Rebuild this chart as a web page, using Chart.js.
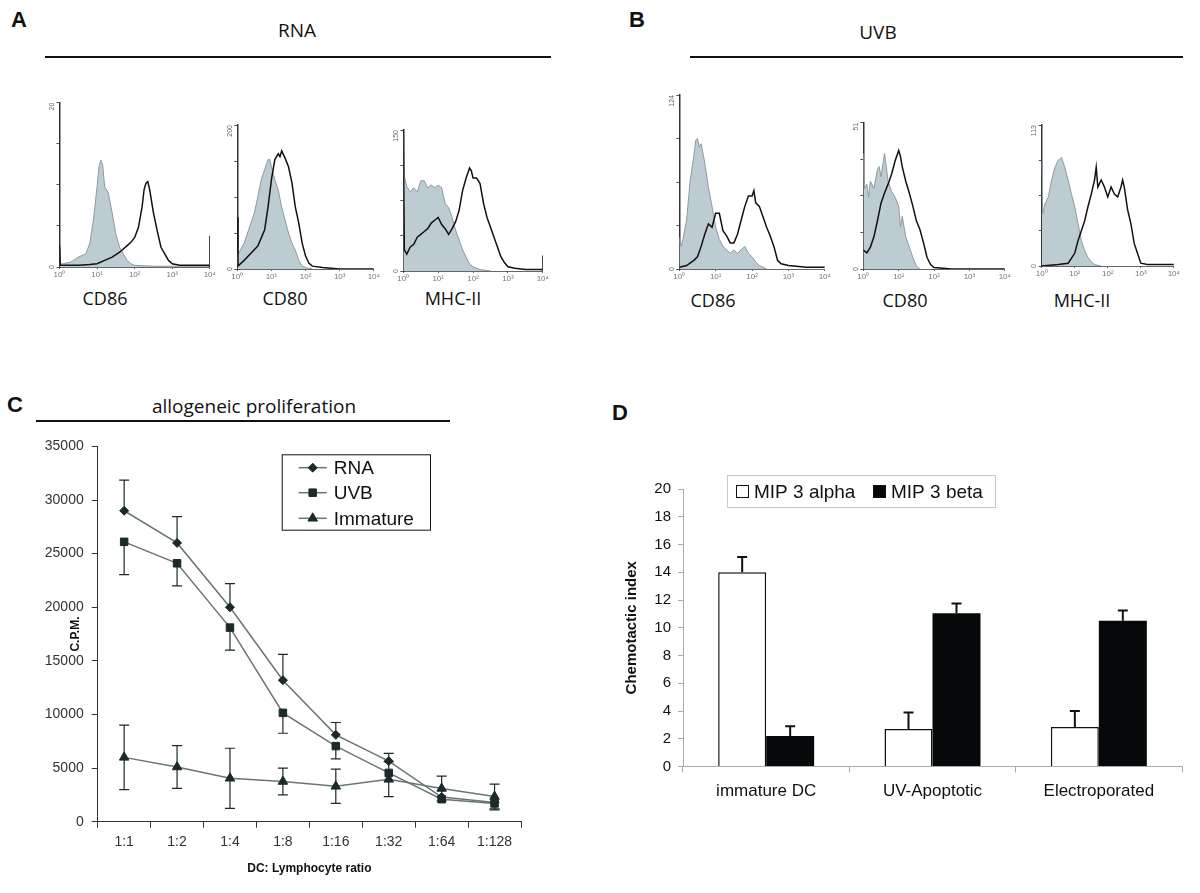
<!DOCTYPE html>
<html>
<head>
<meta charset="utf-8">
<script src="https://cdn.jsdelivr.net/npm/chart.js@4.4.1/dist/chart.umd.min.js"></script>
<style>
  html, body { margin: 0; padding: 0; background: #fff; }
  body { position: relative; width: 1200px; height: 893px; overflow: hidden; font-family: Arial, "Liberation Sans", sans-serif; }
  canvas { position: absolute; }
  .lbl { position: absolute; transform: translate(-50%, -50%); white-space: nowrap; color: #111; }
  .panel { font: bold 22px Arial, "Liberation Sans", sans-serif; }
  .head { font: 19px "Open Sans", "Noto Sans", sans-serif; }
  .marker { font: 18px "Open Sans", "Noto Sans", sans-serif; }
  .rule { position: absolute; height: 2px; background: #111; }
</style>
</head>
<body>

<div class="lbl panel" style="left:19px;top:20px">A</div>
<div class="lbl panel" style="left:637px;top:20px">B</div>
<div class="lbl panel" style="left:15px;top:405px">C</div>
<div class="lbl panel" style="left:620px;top:413px">D</div>

<div class="lbl head" style="left:297px;top:30px">RNA</div>
<div class="rule" style="left:45px;top:56px;width:506px"></div>
<div class="lbl head" style="left:878px;top:32px">UVB</div>
<div class="rule" style="left:690px;top:56px;width:493px"></div>
<div class="lbl head" style="left:254px;top:406px">allogeneic proliferation</div>
<div class="rule" style="left:36px;top:420px;width:414px"></div>

<div class="lbl marker" style="left:105px;top:298px">CD86</div>
<div class="lbl marker" style="left:285px;top:298px">CD80</div>
<div class="lbl marker" style="left:453px;top:298px">MHC-II</div>
<div class="lbl marker" style="left:713px;top:300px">CD86</div>
<div class="lbl marker" style="left:905px;top:300px">CD80</div>
<div class="lbl marker" style="left:1082px;top:300px">MHC-II</div>

<script>
// ---- histogram data: [log10 decade, fraction of y-axis max] ----
const rnaCd86Grey = [[0,0.02],[0.1,0.02],[0.3,0.03],[0.5,0.06],[0.7,0.08],[0.8,0.14],[0.9,0.28],[1.0,0.49],[1.05,0.61],[1.1,0.65],[1.15,0.62],[1.2,0.49],[1.3,0.45],[1.4,0.33],[1.5,0.2],[1.6,0.12],[1.7,0.08],[1.8,0.04],[1.9,0.02],[2.0,0.01],[2.5,0.005],[4,0.005]];
const rnaCd86Open = [[0,0.13],[0.02,0.01],[0.5,0.01],[0.8,0.015],[1.0,0.02],[1.2,0.04],[1.4,0.06],[1.6,0.09],[1.8,0.13],[1.9,0.15],[2.0,0.18],[2.1,0.24],[2.2,0.37],[2.25,0.47],[2.3,0.51],[2.35,0.52],[2.4,0.47],[2.5,0.33],[2.6,0.22],[2.7,0.12],[2.8,0.08],[2.9,0.04],[3.0,0.02],[3.2,0.01],[3.98,0.01],[4,0.19],[4,0]];
const rnaCd80Grey = [[0,0.09],[0.2,0.18],[0.4,0.32],[0.5,0.39],[0.6,0.5],[0.7,0.62],[0.8,0.69],[0.9,0.76],[0.95,0.76],[1.0,0.71],[1.1,0.62],[1.2,0.55],[1.3,0.43],[1.4,0.34],[1.5,0.25],[1.6,0.18],[1.7,0.13],[1.8,0.06],[1.9,0.02],[2.0,0.01],[2.2,0]];
const rnaCd80Open = [[0,0.36],[0.02,0.02],[0.2,0.06],[0.4,0.11],[0.6,0.16],[0.8,0.27],[0.9,0.43],[1.0,0.62],[1.1,0.76],[1.2,0.8],[1.25,0.78],[1.3,0.82],[1.4,0.77],[1.5,0.71],[1.6,0.6],[1.7,0.43],[1.8,0.32],[1.9,0.18],[2.0,0.09],[2.1,0.04],[2.2,0.02],[2.5,0.01],[3,0],[4,0]];
const rnaMhcGrey = [[0,0.98],[0.03,0.67],[0.1,0.6],[0.2,0.56],[0.3,0.59],[0.4,0.56],[0.5,0.64],[0.6,0.64],[0.7,0.59],[0.8,0.61],[0.9,0.59],[1.0,0.61],[1.1,0.59],[1.2,0.48],[1.3,0.45],[1.4,0.38],[1.5,0.29],[1.6,0.22],[1.7,0.15],[1.8,0.1],[1.9,0.05],[2.0,0.03],[2.2,0.01],[2.5,0]];
const rnaMhcOpen = [[0,1.0],[0.03,0.15],[0.1,0.12],[0.2,0.17],[0.3,0.19],[0.4,0.24],[0.5,0.26],[0.6,0.28],[0.7,0.3],[0.8,0.34],[0.9,0.36],[1.0,0.38],[1.1,0.33],[1.2,0.3],[1.3,0.26],[1.4,0.3],[1.5,0.35],[1.6,0.43],[1.7,0.57],[1.8,0.66],[1.9,0.73],[1.95,0.71],[2.0,0.66],[2.1,0.66],[2.2,0.62],[2.3,0.48],[2.4,0.38],[2.5,0.31],[2.6,0.24],[2.7,0.17],[2.8,0.1],[2.9,0.06],[3.0,0.03],[3.2,0.02],[3.5,0.01],[3.98,0.01],[4,0.11],[4,0]];
const uvbCd86Grey = [[0,0.18],[0.05,0.13],[0.1,0.17],[0.2,0.28],[0.3,0.51],[0.4,0.65],[0.45,0.74],[0.5,0.75],[0.55,0.7],[0.6,0.72],[0.7,0.61],[0.8,0.47],[0.9,0.36],[1.0,0.24],[1.1,0.17],[1.2,0.13],[1.3,0.11],[1.4,0.09],[1.5,0.11],[1.6,0.09],[1.7,0.11],[1.8,0.13],[1.9,0.09],[2.0,0.07],[2.1,0.04],[2.2,0.02],[2.4,0]];
const uvbCd86Open = [[0,0.01],[0.2,0.02],[0.4,0.05],[0.5,0.07],[0.6,0.13],[0.7,0.2],[0.8,0.26],[0.9,0.24],[1.0,0.32],[1.1,0.32],[1.2,0.22],[1.3,0.19],[1.4,0.15],[1.5,0.15],[1.6,0.2],[1.7,0.28],[1.8,0.36],[1.9,0.42],[2.0,0.42],[2.05,0.45],[2.1,0.38],[2.2,0.36],[2.3,0.3],[2.4,0.24],[2.5,0.19],[2.6,0.13],[2.7,0.05],[2.8,0.03],[3.0,0.02],[3.5,0.01],[4,0.01]];
const uvbCd80Grey = [[0,0.79],[0.03,0.55],[0.1,0.58],[0.15,0.49],[0.2,0.6],[0.3,0.55],[0.4,0.68],[0.45,0.7],[0.5,0.63],[0.6,0.79],[0.65,0.7],[0.7,0.6],[0.8,0.53],[0.9,0.49],[1.0,0.43],[1.05,0.29],[1.1,0.36],[1.2,0.22],[1.3,0.15],[1.4,0.08],[1.5,0.02],[1.6,0]];
const uvbCd80Open = [[0,0.13],[0.1,0.11],[0.2,0.15],[0.3,0.22],[0.4,0.33],[0.5,0.45],[0.6,0.52],[0.7,0.58],[0.8,0.65],[0.9,0.74],[1.0,0.81],[1.05,0.77],[1.1,0.7],[1.2,0.6],[1.3,0.52],[1.4,0.43],[1.5,0.33],[1.6,0.27],[1.7,0.18],[1.8,0.08],[1.9,0.03],[2.0,0.01],[2.5,0],[4,0]];
const uvbMhcGrey = [[0,0.75],[0.03,0.37],[0.1,0.44],[0.2,0.49],[0.3,0.61],[0.4,0.7],[0.5,0.75],[0.6,0.77],[0.7,0.7],[0.8,0.61],[0.9,0.51],[1.0,0.42],[1.1,0.3],[1.2,0.18],[1.3,0.11],[1.4,0.06],[1.5,0.03],[1.6,0.01],[1.8,0]];
const uvbMhcOpen = [[0,0],[0.5,0.01],[0.8,0.02],[1.0,0.09],[1.1,0.18],[1.2,0.25],[1.3,0.32],[1.4,0.42],[1.5,0.51],[1.6,0.61],[1.65,0.7],[1.7,0.56],[1.8,0.61],[1.9,0.56],[2.0,0.49],[2.1,0.56],[2.2,0.51],[2.3,0.49],[2.4,0.56],[2.45,0.61],[2.5,0.56],[2.6,0.4],[2.7,0.3],[2.8,0.16],[2.9,0.09],[3.0,0.02],[3.2,0.01],[4,0.01]];
const histMaxLabels = ['20', '200', '150', '124', '51', '113'];
const decadeLabels = ['10\u2070', '10\u00b9', '10\u00b2', '10\u00b3', '10\u2074'];

// ---- panel C: allogeneic proliferation ----
const ratios = ['1:1', '1:2', '1:4', '1:8', '1:16', '1:32', '1:64', '1:128'];
const rnaCpm = [29000, 26000, 20000, 13200, 8100, 5650, 2300, 1800];
const rnaErr = [2850, 2450, 2200, 2400, 1150, 720, 0, 0];
const uvbCpm = [26100, 24100, 18100, 10150, 7050, 4550, 2100, 1700];
const uvbErr = [3050, 2100, 2100, 1900, 1200, 0, 0, 600];
const immCpm = [6000, 5100, 4050, 3750, 3300, 3950, 3100, 2350];
const immErr = [3000, 2000, 2800, 1250, 1600, 1620, 1150, 1150];
const cpmTicks = [0, 5000, 10000, 15000, 20000, 25000, 30000, 35000];

// ---- panel D: chemotaxis ----
const dcTypes = ['immature DC', 'UV-Apoptotic', 'Electroporated'];
const mip3alpha = [14, 2.7, 2.85];
const mip3alphaErr = [1.1, 1.2, 1.15];
const mip3beta = [2.2, 11.05, 10.5];
const mip3betaErr = [0.7, 0.7, 0.75];

Chart.defaults.font.family = 'Arial, "Liberation Sans", sans-serif';
Chart.defaults.animation = false;
Chart.defaults.plugins.legend.display = false;
Chart.defaults.plugins.tooltip.enabled = false;

function addCanvas(left, top, w, h) {
  const c = document.createElement('canvas');
  c.width = w; c.height = h;
  c.style.left = left + 'px'; c.style.top = top + 'px';
  c.style.width = w + 'px'; c.style.height = h + 'px';
  document.body.appendChild(c);
  return c;
}

const pts = arr => arr.map(p => ({ x: p[0], y: p[1] }));

// rotated max-count label at the top of each histogram's y axis
const histYLabel = {
  id: 'histYLabel',
  afterDraw(chart, args, opts) {
    const { ctx, chartArea: a } = chart;
    [[a.top, 'right', opts.text], [a.bottom, 'center', '0']].forEach(([yy, align, txt]) => {
      ctx.save();
      ctx.fillStyle = '#666';
      ctx.font = '7px Arial';
      ctx.translate(a.left - 4, yy);
      ctx.rotate(-Math.PI / 2);
      ctx.textAlign = align;
      ctx.textBaseline = 'bottom';
      ctx.fillText(txt, 0, 0);
      ctx.restore();
    });
  }
};

// axis box: [y-axis x, top, bottom, right] in page px
function makeHist(box, grey, open, maxLabel) {
  const [ax, top, bottom, right] = box;
  const padL = 12, padT = 8, padR = 6, padB = 14;
  const c = addCanvas(Math.round(ax - padL), Math.round(top - padT),
    Math.round(right - ax + padL + padR), Math.round(bottom - top + padT + padB));
  const offL = ax - Math.round(ax - padL), offT = top - Math.round(top - padT);
  new Chart(c, {
    type: 'line',
    data: {
      datasets: [
        { data: pts(open), fill: false, borderColor: '#111', borderWidth: 1.5, pointRadius: 0, tension: 0 },
        { data: pts(grey), fill: 'origin', backgroundColor: '#bdcbd3', borderColor: '#8c9ba3', borderWidth: 1, pointRadius: 0, tension: 0 }
      ]
    },
    options: {
      responsive: false,
      devicePixelRatio: 1,
      layout: { padding: { top: offT, right: padR } },
      plugins: { histYLabel: { text: maxLabel } },
      scales: {
        x: {
          type: 'linear', min: 0, max: 4,
          ticks: { stepSize: 1, font: { size: 8 }, color: '#777', padding: 1, callback: v => decadeLabels[v] },
          grid: { drawOnChartArea: false, tickLength: 2, color: '#666' },
          border: { color: '#666' },
          afterFit: s => { s.height = padB; }
        },
        y: {
          min: 0, max: 1,
          ticks: { display: false, stepSize: 0.25 },
          grid: { drawOnChartArea: false, tickLength: 3, color: '#555' },
          border: { color: '#333', width: 1.5 },
          afterFit: s => { s.width = offL; }
        }
      }
    },
    plugins: [histYLabel]
  });
}

makeHist([59.5, 102.7, 266.7, 210], rnaCd86Grey, rnaCd86Open, histMaxLabels[0]);
makeHist([237.3, 125, 269.3, 375], rnaCd80Grey, rnaCd80Open, histMaxLabels[1]);
makeHist([403.3, 130, 270.7, 544], rnaMhcGrey, rnaMhcOpen, histMaxLabels[2]);
makeHist([679.3, 95, 269, 826.7], uvbCd86Grey, uvbCd86Open, histMaxLabels[3]);
makeHist([863.3, 122.7, 269, 1006], uvbCd80Grey, uvbCd80Open, histMaxLabels[4]);
makeHist([1041.7, 125, 265.7, 1175], uvbMhcGrey, uvbMhcOpen, histMaxLabels[5]);

// error bars: dataset.err (values), dataset.errDir ('up' | 'down' | 'both'), dataset.errCap (px)
const errorBars = {
  id: 'errorBars',
  afterDatasetsDraw(chart) {
    const { ctx } = chart;
    const y = chart.scales.y;
    chart.data.datasets.forEach((ds, di) => {
      if (!ds.err) return;
      const meta = chart.getDatasetMeta(di);
      ctx.save();
      ctx.strokeStyle = ds.errColor || '#111';
      ctx.lineWidth = ds.errWidth || 1.2;
      meta.data.forEach((el, i) => {
        const e = ds.err[i];
        if (!e) return;
        const v = ds.data[i];
        const x = el.x;
        const cap = ds.errCap || 5;
        const ends = [];
        if (ds.errDir !== 'down') ends.push(y.getPixelForValue(v + e));
        if (ds.errDir !== 'up') ends.push(y.getPixelForValue(v - e));
        const y0 = y.getPixelForValue(v);
        ends.forEach(ye => {
          ctx.beginPath();
          ctx.moveTo(x, y0); ctx.lineTo(x, ye);
          ctx.moveTo(x - cap, ye); ctx.lineTo(x + cap, ye);
          ctx.stroke();
        });
      });
      ctx.restore();
    });
  }
};

// ---- panel C ----
const cLeft = 40, cTop = 430;
const lineGrey = '#687575', markDark = '#1c2a2a';

const legendC = {
  id: 'legendC',
  afterDraw(chart) {
    const { ctx } = chart;
    const bx = 281.7 - cLeft, by = 454.3 - cTop, bw = 148.3, bh = 75.4;
    ctx.save();
    ctx.fillStyle = '#fff';
    ctx.fillRect(bx, by, bw, bh);
    ctx.strokeStyle = '#111';
    ctx.lineWidth = 1;
    ctx.strokeRect(bx + 0.5, by + 0.5, bw, bh);
    const rows = [13.4, 38.4, 64];
    chart.data.datasets.forEach((ds, i) => {
      const yy = by + rows[i];
      ctx.strokeStyle = lineGrey;
      ctx.lineWidth = 1.5;
      ctx.beginPath();
      ctx.moveTo(bx + 17, yy); ctx.lineTo(bx + 45, yy);
      ctx.stroke();
      ctx.fillStyle = markDark;
      ctx.strokeStyle = markDark;
      ctx.lineWidth = 1;
      Chart.helpers.drawPoint(ctx, { pointStyle: ds.pointStyle, radius: ds.pointRadius, borderWidth: 1, rotation: 0 }, bx + 31, yy);
      ctx.fillStyle = '#111';
      ctx.font = '19px Arial, "Liberation Sans", sans-serif';
      ctx.textAlign = 'left';
      ctx.textBaseline = 'middle';
      ctx.fillText(ds.label, bx + 52, yy + 1);
    });
    ctx.restore();
  }
};

const cCanvas = addCanvas(cLeft, cTop, 500, 450);
const lineDs = (label, data, err, dir, style, r) => ({
  label, data, err, errDir: dir, errColor: markDark, errWidth: 1.2, errCap: 5,
  borderColor: lineGrey, borderWidth: 1.5, tension: 0, fill: false,
  pointStyle: style, pointRadius: r, pointBackgroundColor: markDark, pointBorderColor: markDark, pointBorderWidth: 1
});
new Chart(cCanvas, {
  type: 'line',
  data: {
    labels: ratios,
    datasets: [
      lineDs('RNA', rnaCpm, rnaErr, 'up', 'rectRot', 4.5),
      lineDs('UVB', uvbCpm, uvbErr, 'down', 'rect', 5.3),
      lineDs('Immature', immCpm, immErr, 'both', 'triangle', 5.5)
    ]
  },
  options: {
    responsive: false,
    devicePixelRatio: 1,
    layout: { padding: { top: 15.7, right: 19 } },
    scales: {
      x: {
        offset: true,
        ticks: { font: { size: 14 }, color: '#333', padding: 6 },
        grid: { offset: true, drawOnChartArea: false, tickLength: 6, color: '#333' },
        border: { color: '#333' },
        title: { display: true, text: 'DC: Lymphocyte ratio', font: { size: 12, weight: 'bold' }, color: '#111', padding: { top: 0, bottom: 4 } },
        afterFit: s => { s.height = 58.3; }
      },
      y: {
        min: 0, max: 35000,
        afterBuildTicks: s => { s.ticks = cpmTicks.map(v => ({ value: v })); },
        ticks: { font: { size: 14 }, color: '#333', padding: 8, callback: v => String(v) },
        grid: { drawOnChartArea: false, tickLength: 6, color: '#333' },
        border: { color: '#333' },
        title: { display: true, text: 'C.P.M.', font: { size: 12, weight: 'bold' }, color: '#111', padding: { top: 28, bottom: 0 } },
        afterFit: s => { s.width = 57.7; }
      }
    }
  },
  plugins: [errorBars, legendC]
});

// ---- panel D ----
const dLeft = 600, dTop = 460;
const legendD = {
  id: 'legendD',
  afterDraw(chart) {
    const { ctx } = chart;
    const bx = 727 - dLeft, by = 475 - dTop;
    ctx.save();
    ctx.strokeStyle = '#c8c8c8';
    ctx.lineWidth = 1;
    ctx.strokeRect(bx + 0.5, by + 0.5, 268, 32);
    ctx.font = '19px Arial, "Liberation Sans", sans-serif';
    ctx.textBaseline = 'middle';
    ctx.textAlign = 'left';
    const cy = by + 16.5;
    const items = [[9, chart.data.datasets[0]], [146, chart.data.datasets[1]]];
    items.forEach(([ox, ds]) => {
      ctx.fillStyle = ds.backgroundColor;
      ctx.fillRect(bx + ox, cy - 6.5, 13, 13);
      ctx.strokeStyle = '#111';
      ctx.strokeRect(bx + ox + 0.5, cy - 6, 12, 12);
      ctx.fillStyle = '#111';
      ctx.fillText(ds.label, bx + ox + 18, cy + 1);
    });
    ctx.restore();
  }
};

const dCanvas = addCanvas(dLeft, dTop, 590, 400);
new Chart(dCanvas, {
  type: 'bar',
  data: {
    labels: dcTypes,
    datasets: [
      { label: 'MIP 3 alpha', data: mip3alpha, err: mip3alphaErr, errDir: 'up', errWidth: 2, errCap: 5,
        backgroundColor: '#ffffff', borderColor: '#111', borderWidth: 1.5 },
      { label: 'MIP 3 beta', data: mip3beta, err: mip3betaErr, errDir: 'up', errWidth: 2, errCap: 5,
        backgroundColor: '#050909', borderColor: '#050909', borderWidth: 0 }
    ]
  },
  options: {
    responsive: false,
    devicePixelRatio: 1,
    layout: { padding: { top: 29, right: 8 } },
    datasets: { bar: { categoryPercentage: 0.577, barPercentage: 1 } },
    scales: {
      x: {
        ticks: { font: { size: 17 }, color: '#111', padding: 9 },
        grid: { offset: true, drawOnChartArea: false, tickLength: 6, color: '#aaa' },
        border: { color: '#aaa' },
        afterFit: s => { s.height = 93.5; }
      },
      y: {
        min: 0, max: 20,
        ticks: { stepSize: 2, font: { size: 15 }, color: '#111', padding: 7 },
        grid: { drawOnChartArea: false, tickLength: 5, color: '#aaa' },
        border: { color: '#aaa' },
        title: { display: true, text: 'Chemotactic index', font: { size: 15, weight: 'bold' }, color: '#111', padding: { top: 23, bottom: 0 } },
        afterFit: s => { s.width = 83; }
      }
    }
  },
  plugins: [errorBars, legendD]
});
</script>
</body>
</html>
